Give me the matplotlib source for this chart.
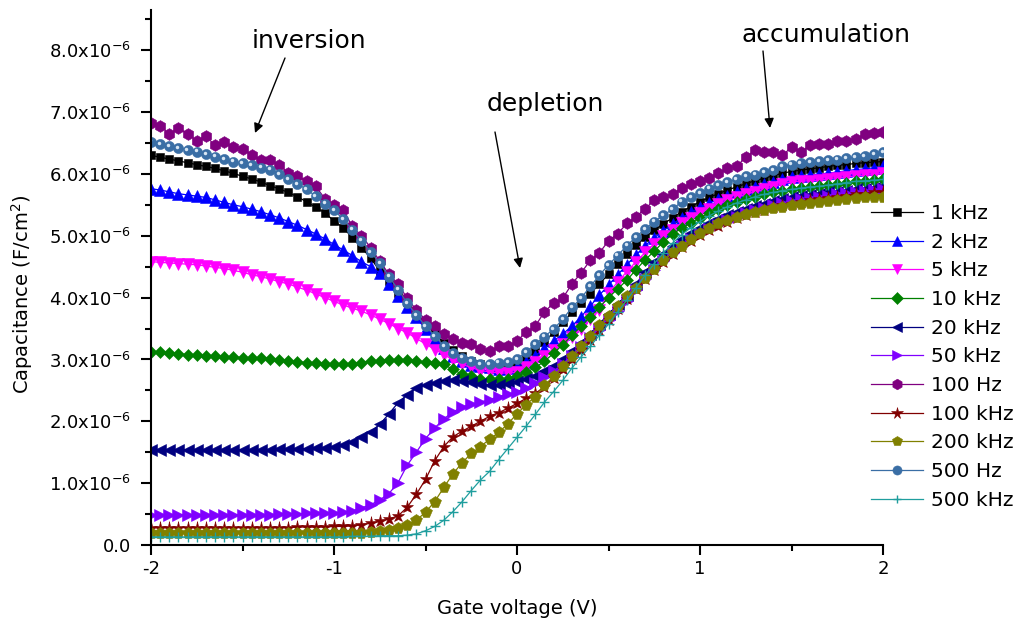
import numpy as np
import matplotlib
matplotlib.use("Agg")
import matplotlib.pyplot as plt
from matplotlib.ticker import MultipleLocator, FuncFormatter
from matplotlib import transforms

plt.rcParams['font.family'] = ['DejaVu Sans']
plt.rcParams['axes.unicode_minus'] = False

# Gate voltage grid (V)
voltage = np.round(np.arange(-2.0, 2.0001, 0.05), 2)

# Capacitance values, in units of 1e-6 F/cm^2
c_1kHz = [6.30, 6.27, 6.24, 6.21, 6.18, 6.15, 6.12, 6.09, 6.05, 6.01,
          5.96, 5.92, 5.87, 5.81, 5.76, 5.70, 5.63, 5.55, 5.46, 5.37,
          5.24, 5.13, 4.97, 4.81, 4.64, 4.43, 4.27, 4.07, 3.93, 3.75,
          3.58, 3.42, 3.27, 3.15, 3.05, 2.98, 2.92, 2.88, 2.86, 2.87,
          2.93, 3.02, 3.14, 3.28, 3.44, 3.60, 3.76, 3.91, 4.06, 4.22,
          4.38, 4.55, 4.71, 4.85, 4.98, 5.09, 5.19, 5.29, 5.39, 5.47,
          5.55, 5.62, 5.68, 5.74, 5.79, 5.84, 5.89, 5.93, 5.97, 6.01,
          6.04, 6.06, 6.08, 6.10, 6.12, 6.14, 6.15, 6.17, 6.18, 6.19,
          6.20]
c_2kHz = [5.76, 5.74, 5.71, 5.68, 5.66, 5.64, 5.62, 5.58, 5.54, 5.50,
          5.47, 5.43, 5.39, 5.34, 5.29, 5.23, 5.17, 5.10, 5.03, 4.95,
          4.86, 4.77, 4.68, 4.58, 4.50, 4.40, 4.22, 4.02, 3.85, 3.68,
          3.49, 3.33, 3.18, 3.06, 2.97, 2.91, 2.89, 2.87, 2.85, 2.86,
          2.88, 2.96, 3.06, 3.18, 3.30, 3.41, 3.54, 3.69, 3.86, 4.04,
          4.20, 4.37, 4.53, 4.69, 4.84, 4.97, 5.08, 5.19, 5.29, 5.38,
          5.46, 5.53, 5.59, 5.65, 5.70, 5.75, 5.79, 5.83, 5.87, 5.92,
          5.95, 5.97, 5.98, 6.00, 6.01, 6.03, 6.05, 6.07, 6.08, 6.10,
          6.12]
c_5kHz = [4.58, 4.57, 4.56, 4.55, 4.54, 4.53, 4.51, 4.49, 4.47, 4.44,
          4.41, 4.37, 4.34, 4.30, 4.26, 4.22, 4.17, 4.12, 4.06, 4.00,
          3.94, 3.88, 3.83, 3.78, 3.72, 3.65, 3.58, 3.50, 3.43, 3.34,
          3.25, 3.16, 3.08, 2.99, 2.92, 2.87, 2.82, 2.80, 2.78, 2.78,
          2.79, 2.87, 2.96, 3.05, 3.15, 3.25, 3.37, 3.50, 3.65, 3.80,
          4.08, 4.25, 4.42, 4.58, 4.73, 4.87, 4.99, 5.10, 5.20, 5.29,
          5.37, 5.44, 5.51, 5.57, 5.62, 5.67, 5.71, 5.75, 5.79, 5.84,
          5.87, 5.88, 5.89, 5.90, 5.92, 5.94, 5.95, 5.97, 5.98, 5.99,
          6.01]
c_10kHz = [3.12, 3.12, 3.10, 3.09, 3.08, 3.07, 3.05, 3.05, 3.04, 3.04,
           3.03, 3.03, 3.02, 3.01, 2.99, 2.97, 2.96, 2.95, 2.94, 2.93,
           2.92, 2.92, 2.93, 2.95, 2.97, 2.98, 2.99, 2.99, 2.99, 2.97,
           2.96, 2.95, 2.92, 2.84, 2.76, 2.73, 2.68, 2.68, 2.69, 2.69,
           2.73, 2.79, 2.87, 2.97, 3.10, 3.24, 3.39, 3.54, 3.69, 3.84,
           4.00, 4.14, 4.28, 4.45, 4.61, 4.75, 4.90, 5.03, 5.12, 5.21,
           5.29, 5.37, 5.44, 5.50, 5.55, 5.59, 5.63, 5.67, 5.70, 5.73,
           5.75, 5.77, 5.79, 5.80, 5.82, 5.84, 5.86, 5.88, 5.89, 5.90,
           5.92]
c_20kHz = [1.54, 1.54, 1.53, 1.54, 1.54, 1.53, 1.54, 1.54, 1.54, 1.54,
           1.54, 1.54, 1.54, 1.54, 1.55, 1.55, 1.55, 1.56, 1.57, 1.57,
           1.59, 1.62, 1.67, 1.75, 1.83, 1.95, 2.12, 2.30, 2.43, 2.54,
           2.59, 2.62, 2.65, 2.66, 2.65, 2.63, 2.60, 2.59, 2.58, 2.60,
           2.63, 2.68, 2.74, 2.81, 2.90, 3.01, 3.14, 3.27, 3.41, 3.57,
           3.73, 3.89, 4.05, 4.22, 4.42, 4.57, 4.71, 4.84, 4.95, 5.04,
           5.12, 5.20, 5.27, 5.34, 5.39, 5.44, 5.48, 5.52, 5.56, 5.60,
           5.62, 5.64, 5.66, 5.68, 5.70, 5.71, 5.73, 5.75, 5.76, 5.78,
           5.80]
c_50kHz = [0.49, 0.49, 0.49, 0.49, 0.49, 0.49, 0.49, 0.49, 0.49, 0.49,
           0.49, 0.49, 0.49, 0.49, 0.50, 0.50, 0.50, 0.51, 0.51, 0.51,
           0.52, 0.53, 0.55, 0.60, 0.65, 0.73, 0.83, 1.01, 1.29, 1.50,
           1.72, 1.89, 2.04, 2.15, 2.23, 2.28, 2.31, 2.35, 2.40, 2.44,
           2.48, 2.54, 2.62, 2.71, 2.81, 2.93, 3.06, 3.20, 3.34, 3.48,
           3.63, 3.79, 3.95, 4.12, 4.30, 4.45, 4.59, 4.72, 4.84, 4.94,
           5.03, 5.11, 5.18, 5.25, 5.31, 5.36, 5.41, 5.45, 5.49, 5.53,
           5.56, 5.59, 5.61, 5.63, 5.65, 5.67, 5.69, 5.71, 5.72, 5.74,
           5.75]
c_100Hz = [6.83, 6.78, 6.64, 6.75, 6.64, 6.54, 6.61, 6.46, 6.52, 6.43,
           6.40, 6.31, 6.22, 6.22, 6.14, 6.02, 5.97, 5.88, 5.80, 5.60,
           5.49, 5.42, 5.15, 5.00, 4.81, 4.59, 4.38, 4.22, 3.99, 3.80,
           3.64, 3.54, 3.41, 3.33, 3.27, 3.25, 3.17, 3.13, 3.21, 3.21,
           3.30, 3.44, 3.54, 3.77, 3.91, 3.99, 4.22, 4.40, 4.60, 4.72,
           4.92, 5.03, 5.20, 5.31, 5.43, 5.58, 5.63, 5.67, 5.78, 5.84,
           5.89, 5.94, 6.02, 6.09, 6.12, 6.27, 6.38, 6.36, 6.36, 6.30,
           6.43, 6.35, 6.46, 6.49, 6.49, 6.53, 6.53, 6.57, 6.64, 6.66,
           6.67]
c_100kHz = [0.28, 0.28, 0.28, 0.28, 0.28, 0.28, 0.28, 0.28, 0.28, 0.28,
            0.28, 0.28, 0.28, 0.28, 0.28, 0.28, 0.29, 0.29, 0.29, 0.29,
            0.30, 0.30, 0.31, 0.33, 0.35, 0.38, 0.42, 0.47, 0.61, 0.82,
            1.06, 1.36, 1.59, 1.75, 1.84, 1.92, 2.00, 2.08, 2.14, 2.21,
            2.29, 2.37, 2.45, 2.56, 2.70, 2.84, 3.00, 3.16, 3.32, 3.48,
            3.64, 3.81, 3.97, 4.14, 4.30, 4.44, 4.58, 4.70, 4.82, 4.92,
            5.01, 5.09, 5.16, 5.22, 5.28, 5.33, 5.38, 5.42, 5.46, 5.49,
            5.52, 5.55, 5.57, 5.59, 5.61, 5.63, 5.65, 5.67, 5.68, 5.70,
            5.71]
c_200kHz = [0.19, 0.19, 0.19, 0.19, 0.19, 0.19, 0.19, 0.19, 0.19, 0.19,
            0.19, 0.19, 0.19, 0.19, 0.19, 0.19, 0.19, 0.19, 0.19, 0.19,
            0.19, 0.19, 0.20, 0.20, 0.21, 0.22, 0.24, 0.28, 0.33, 0.40,
            0.53, 0.70, 0.93, 1.15, 1.33, 1.48, 1.59, 1.71, 1.82, 1.96,
            2.12, 2.27, 2.40, 2.58, 2.73, 2.89, 3.05, 3.21, 3.38, 3.55,
            3.71, 3.87, 4.03, 4.16, 4.32, 4.47, 4.61, 4.73, 4.84, 4.94,
            5.04, 5.12, 5.20, 5.26, 5.31, 5.35, 5.39, 5.42, 5.45, 5.47,
            5.49, 5.51, 5.53, 5.55, 5.56, 5.58, 5.60, 5.61, 5.62, 5.63,
            5.63]
c_500Hz = [6.52, 6.48, 6.45, 6.42, 6.39, 6.36, 6.32, 6.28, 6.24, 6.20,
           6.17, 6.14, 6.10, 6.07, 6.00, 5.92, 5.84, 5.75, 5.64, 5.52,
           5.41, 5.27, 5.10, 4.92, 4.74, 4.56, 4.34, 4.13, 3.91, 3.72,
           3.54, 3.38, 3.22, 3.10, 3.03, 2.97, 2.92, 2.92, 2.95, 2.96,
           3.01, 3.12, 3.25, 3.37, 3.49, 3.65, 3.84, 3.99, 4.18, 4.36,
           4.53, 4.68, 4.84, 4.98, 5.11, 5.23, 5.33, 5.43, 5.55, 5.62,
           5.69, 5.76, 5.82, 5.87, 5.91, 5.96, 5.99, 6.03, 6.06, 6.12,
           6.15, 6.17, 6.19, 6.21, 6.22, 6.23, 6.25, 6.27, 6.29, 6.32,
           6.35]
c_500kHz = [0.13, 0.13, 0.13, 0.13, 0.13, 0.13, 0.13, 0.13, 0.13, 0.13,
            0.13, 0.13, 0.13, 0.13, 0.13, 0.13, 0.13, 0.13, 0.13, 0.13,
            0.13, 0.13, 0.14, 0.14, 0.14, 0.15, 0.15, 0.15, 0.16, 0.18,
            0.23, 0.30, 0.40, 0.54, 0.70, 0.88, 1.05, 1.19, 1.38, 1.56,
            1.74, 1.92, 2.11, 2.31, 2.48, 2.66, 2.86, 3.04, 3.21, 3.39,
            3.57, 3.77, 3.96, 4.16, 4.36, 4.55, 4.72, 4.88, 5.02, 5.13,
            5.23, 5.32, 5.40, 5.47, 5.53, 5.58, 5.63, 5.67, 5.70, 5.73,
            5.75, 5.77, 5.79, 5.80, 5.82, 5.84, 5.86, 5.88, 5.89, 5.90,
            5.91]

labels = ["1 kHz", "2 kHz", "5 kHz", "10 kHz", "20 kHz", "50 kHz",
          "100 Hz", "100 kHz", "200 kHz", "500 Hz", "500 kHz"]
series = [c_1kHz, c_2kHz, c_5kHz, c_10kHz, c_20kHz, c_50kHz,
          c_100Hz, c_100kHz, c_200kHz, c_500Hz, c_500kHz]
colors = ["#000000", "#0000FF", "#FF00FF", "#008000", "#000080", "#8000FF",
          "#800080", "#800000", "#808000", "#3A6EA5", "#1F9E9E"]
markers = ["s", "^", "v", "D", "<", ">", "h", "*", "p", "o", "+"]
msizes = [6.3, 8, 8, 6.3, 8, 8, 8.5, 9.5, 8.5, 7.3, 7]

W, H = 1025, 627
fig = plt.figure(figsize=(W / 100, H / 100), dpi=100)
ax = fig.add_axes([151 / W, (H - 545) / H, (883 - 151) / W, (545 - 10) / H])

handles = []
for lab, vals, col, mk, ms in zip(labels, series, colors, markers, msizes):
    y = np.array(vals) * 1e-6
    ln, = ax.plot(voltage, y, color=col, lw=0.9, marker=mk, markersize=ms,
                  markerfacecolor=col, markeredgecolor=col,
                  markeredgewidth=1.0 if mk == "+" else 0.4, label=lab)
    handles.append(ln)
    if lab == "500 Hz":
        off = transforms.offset_copy(ax.transData, fig=fig, x=-0.9, y=0.9, units='points')
        ax.plot(voltage, y, ls='none', marker='o', markersize=2.5,
                markerfacecolor='#D8E6F3', markeredgecolor='none', transform=off)

ax.set_xlim(-2, 2)
ax.set_ylim(0, 8.65e-6)
ax.xaxis.set_major_locator(MultipleLocator(1))
ax.xaxis.set_minor_locator(MultipleLocator(0.5))
ax.yaxis.set_major_locator(MultipleLocator(1e-6))
ax.yaxis.set_minor_locator(MultipleLocator(0.5e-6))


def yfmt(v, pos):
    m = v / 1e-6
    if abs(m) < 1e-9:
        return "0.0"
    return "%.1fx10$^{-6}$" % m


ax.yaxis.set_major_formatter(FuncFormatter(yfmt))
ax.xaxis.set_major_formatter(FuncFormatter(lambda v, p: "%d" % round(v)))

for s in ["top", "right"]:
    ax.spines[s].set_visible(False)
for s in ["left", "bottom"]:
    ax.spines[s].set_linewidth(1.5)

ax.tick_params(axis='both', which='major', direction='out', length=7.5, width=1.5,
               labelsize=13)
ax.tick_params(axis='both', which='minor', direction='out', length=4.5, width=1.5)
ax.tick_params(axis='y', which='major', pad=7)
ax.tick_params(axis='x', which='major', pad=3)

fig.text(517 / W, 1 - 608 / H, "Gate voltage (V)", ha='center', va='center', fontsize=14)
fig.text(22 / W, 1 - 294 / H, "Capacitance (F/cm$^2$)", ha='center', va='center',
         rotation=90, fontsize=14)

leg = fig.legend(handles=handles, loc='upper left',
                 bbox_to_anchor=(871 / W, 1 - 204 / H), bbox_transform=fig.transFigure,
                 frameon=False, fontsize=14.5, handlelength=2.6, handletextpad=0.4,
                 labelspacing=0.48, borderpad=0, borderaxespad=0, markerscale=0.9)

# Region annotations
def figpx(x, y):
    return (x, H - y)

arrow_kw = dict(arrowstyle='-|>', color='black', lw=1.0, mutation_scale=14,
                shrinkA=0, shrinkB=0)
fig.text(309 / W, 1 - 41 / H, "inversion", ha='center', va='center', fontsize=18)
ax.annotate("", xy=figpx(255, 133), xytext=figpx(285, 58),
            xycoords='figure pixels', textcoords='figure pixels', arrowprops=arrow_kw)
fig.text(545 / W, 1 - 104 / H, "depletion", ha='center', va='center', fontsize=18)
ax.annotate("", xy=figpx(520, 268), xytext=figpx(495, 132),
            xycoords='figure pixels', textcoords='figure pixels', arrowprops=arrow_kw)
fig.text(826 / W, 1 - 35 / H, "accumulation", ha='center', va='center', fontsize=18)
ax.annotate("", xy=figpx(770, 128), xytext=figpx(763, 51),
            xycoords='figure pixels', textcoords='figure pixels', arrowprops=arrow_kw)

fig.savefig("out.png", dpi=100)
